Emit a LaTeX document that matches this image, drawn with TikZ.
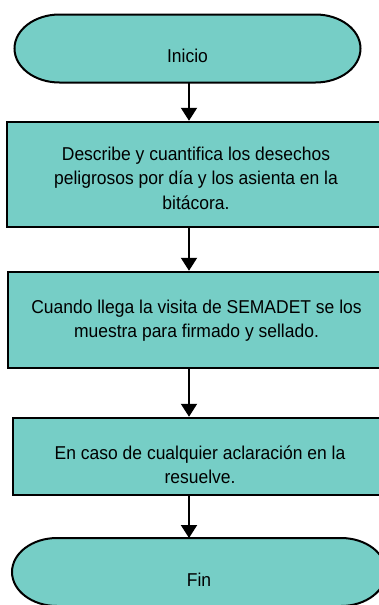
\documentclass[tikz,border=0pt]{standalone}
\usepackage{fontspec}
\setmainfont[FakeStretch=0.94]{Liberation Sans}
\usetikzlibrary{arrows.meta}
\definecolor{tealfill}{RGB}{118,206,198}
\begin{document}
\begin{tikzpicture}[x=1pt,y=1pt,
  box/.style={draw=black,line width=2.5pt,fill=tealfill,inner sep=0pt},
  shapeholder/.style={inner sep=0pt,outer sep=0pt},
  txt/.style={align=center,font=\fontsize{18.6}{24.5}\selectfont,inner sep=0pt,text=black},
  term/.style={draw=black,line width=2pt,fill=tealfill},
  arr/.style={line width=2pt,-{Triangle[width=16pt,length=13pt]}}]
\useasboundingbox (0,0) rectangle (379,-605);
\clip (0,0) rectangle (379,-605);
\coordinate (ax) at (189,0);

% Inicio terminal
\node[shapeholder,minimum width=346pt,minimum height=68pt] (inicio) at (187.5,-48.5) {};
\path[term] ([xshift=45pt]inicio.north west) -- ([xshift=-45pt]inicio.north east)
  arc[start angle=90,end angle=-90,x radius=45pt,y radius=34pt]
  -- ([xshift=45pt]inicio.south west)
  arc[start angle=270,end angle=90,x radius=45pt,y radius=34pt] -- cycle;
\node[txt] (iniciotext) at ([yshift=-7.5pt]inicio.center) {Inicio};

% Box 1
\node[box,minimum width=378pt,minimum height=105pt] (b1) at (196,-174.5) {};
\node[txt] (b1text) at ([yshift=-3.7pt]b1.center) {Describe y cuantifica los desechos\\peligrosos por día y los asienta en la\\bitácora.};

% Box 2
\node[box,minimum width=377pt,minimum height=96pt] (b2) at (196.5,-320) {};
\node[txt] (b2text) at ([yshift=-0.7pt]b2.center) {Cuando llega la visita de SEMADET se los\\muestra para firmado y sellado.};

% Box 3
\node[box,minimum width=374pt,minimum height=77pt] (b3) at (200,-456.5) {};
\node[txt] (b3text) at ([yshift=-8pt]b3.center) {En caso de cualquier aclaración en la\\resuelve.};

% Fin terminal
\node[shapeholder,minimum width=374pt,minimum height=68pt] (fin) at (199,-572) {};
\path[term] ([xshift=45pt]fin.north west) -- ([xshift=-45pt]fin.north east)
  arc[start angle=90,end angle=-90,x radius=45pt,y radius=34pt]
  -- ([xshift=45pt]fin.south west)
  arc[start angle=270,end angle=90,x radius=45pt,y radius=34pt] -- cycle;
\node[txt] (fintext) at ([yshift=-8pt]fin.center) {Fin};

% Connectors
\draw[arr] (inicio.south -| ax) -- (b1.north -| ax);
\draw[arr] (b1.south -| ax) -- (b2.north -| ax);
\draw[arr] (b2.south -| ax) -- (b3.north -| ax);
\draw[arr] (b3.south -| ax) -- (fin.north -| ax);
\end{tikzpicture}
\end{document}
